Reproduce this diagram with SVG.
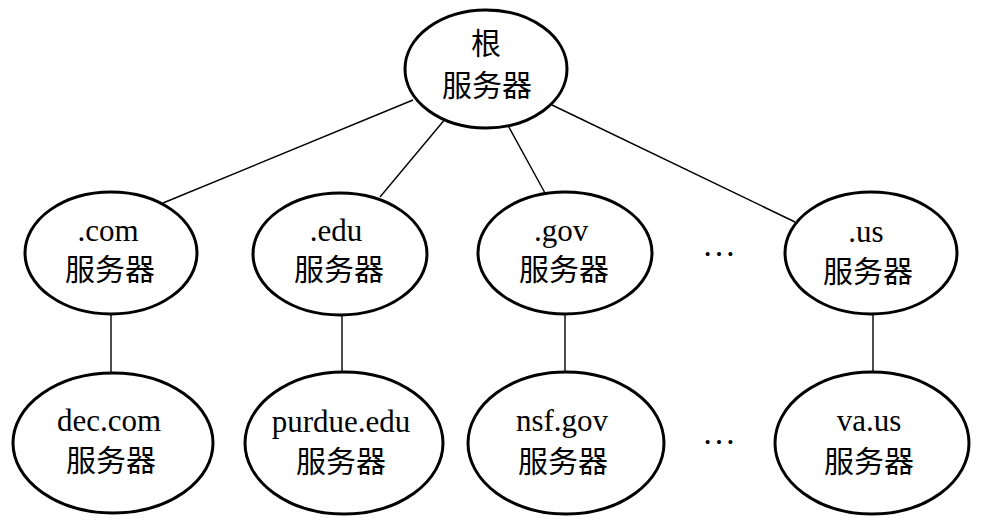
<svg xmlns="http://www.w3.org/2000/svg" width="988" height="528" viewBox="0 0 988 528">
<style>
.node ellipse{fill:#fff;stroke:#000;stroke-width:3}
.conn line{stroke:#000;stroke-width:1.4}
text{font-family:"Liberation Serif","Noto Sans CJK SC",serif;font-size:31px;fill:#000;text-anchor:middle}
.cjk{font-family:"Noto Sans CJK SC",sans-serif;font-size:30px}
</style>
<rect width="988" height="528" fill="#fff"/>
<g id="connectors" class="conn">
<line x1="413" y1="100" x2="163" y2="203"/>
<line x1="446" y1="118" x2="380" y2="197"/>
<line x1="505" y1="120" x2="545" y2="193"/>
<line x1="552" y1="105" x2="795" y2="222"/>
<line x1="111" y1="314" x2="111" y2="373"/>
<line x1="342" y1="315" x2="342" y2="372"/>
<line x1="565" y1="314" x2="565" y2="372"/>
<line x1="873" y1="314" x2="873" y2="372"/>
</g>
<g id="root" class="node"><ellipse cx="486" cy="69" rx="81" ry="59"/><text x="486" y="54" class="cjk">根</text><text x="487" y="96" class="cjk">服务器</text></g>
<g id="com" class="node"><ellipse cx="111" cy="253" rx="86" ry="61"/><text x="108" y="241">.com</text><text x="110" y="280" class="cjk">服务器</text></g>
<g id="edu" class="node"><ellipse cx="340" cy="254" rx="87" ry="61"/><text x="336" y="241">.edu</text><text x="339" y="280" class="cjk">服务器</text></g>
<g id="gov" class="node"><ellipse cx="565" cy="253" rx="87" ry="61"/><text x="561" y="241">.gov</text><text x="564" y="280" class="cjk">服务器</text></g>
<g id="us" class="node"><ellipse cx="871" cy="253" rx="86" ry="61"/><text x="866" y="242">.us</text><text x="868" y="282" class="cjk">服务器</text></g>
<g id="dec" class="node"><ellipse cx="113" cy="443" rx="100" ry="70"/><text x="109" y="431">dec.com</text><text x="111" y="471" class="cjk">服务器</text></g>
<g id="purdue" class="node"><ellipse cx="344" cy="443" rx="99" ry="71"/><text x="341" y="432">purdue.edu</text><text x="341" y="472" class="cjk">服务器</text></g>
<g id="nsf" class="node"><ellipse cx="566" cy="443" rx="98" ry="71"/><text x="562" y="431">nsf.gov</text><text x="563" y="472" class="cjk">服务器</text></g>
<g id="va" class="node"><ellipse cx="872" cy="443" rx="97" ry="71"/><text x="869" y="431">va.us</text><text x="869" y="472" class="cjk">服务器</text></g>
<g id="dots1"><text x="719" y="256" style="font-size:34px">…</text></g>
<g id="dots2"><text x="719" y="444" style="font-size:34px">…</text></g>
</svg>
